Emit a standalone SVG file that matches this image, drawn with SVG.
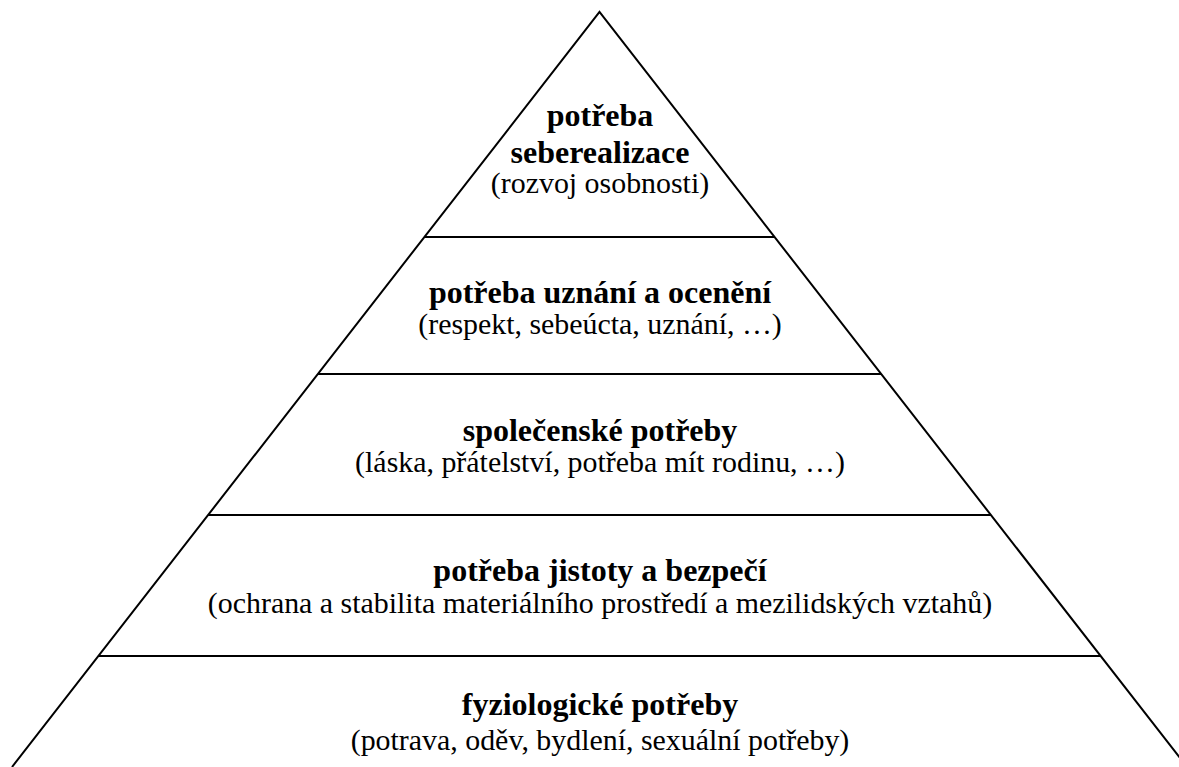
<svg xmlns="http://www.w3.org/2000/svg" width="1179" height="767" viewBox="0 0 1179 767">
  <style>
    .ln { stroke: #000; stroke-width: 2; fill: none; }
    .b { font-family: "Liberation Serif", Tinos, "Times New Roman", Times, "Noto Serif", "DejaVu Serif", serif; font-weight: bold; font-size: 32px; text-anchor: middle; fill: #000; }
    .r { font-family: "Liberation Serif", Tinos, "Times New Roman", Times, "Noto Serif", "DejaVu Serif", serif; font-size: 29.9px; text-anchor: middle; fill: #000; }
  </style>
  <rect width="1179" height="767" fill="#fff"/>
  <g id="connectors">
    <polyline class="ln" points="12,767 599.5,12 1187,767"/>
    <line class="ln" x1="425" y1="237" x2="774" y2="237"/>
    <line class="ln" x1="318" y1="374" x2="881" y2="374"/>
    <line class="ln" x1="208" y1="515" x2="991" y2="515"/>
    <line class="ln" x1="98" y1="656" x2="1101" y2="656"/>
  </g>
  <g id="level5">
    <text class="b" x="600" y="126">potřeba</text>
    <text class="b" x="600" y="163">seberealizace</text>
    <text class="r" x="600" y="193">(rozvoj osobnosti)</text>
  </g>
  <g id="level4">
    <text class="b" x="600" y="303">potřeba uznání a ocenění</text>
    <text class="r" x="600" y="334">(respekt, sebeúcta, uznání, …)</text>
  </g>
  <g id="level3">
    <text class="b" x="600" y="441">společenské potřeby</text>
    <text class="r" x="600" y="472">(láska, přátelství, potřeba mít rodinu, …)</text>
  </g>
  <g id="level2">
    <text class="b" x="600" y="581">potřeba jistoty a bezpečí</text>
    <text class="r" x="600" y="613">(ochrana a stabilita materiálního prostředí a mezilidských vztahů)</text>
  </g>
  <g id="level1">
    <text class="b" x="600" y="715">fyziologické potřeby</text>
    <text class="r" x="600" y="750">(potrava, oděv, bydlení, sexuální potřeby)</text>
  </g>
</svg>
